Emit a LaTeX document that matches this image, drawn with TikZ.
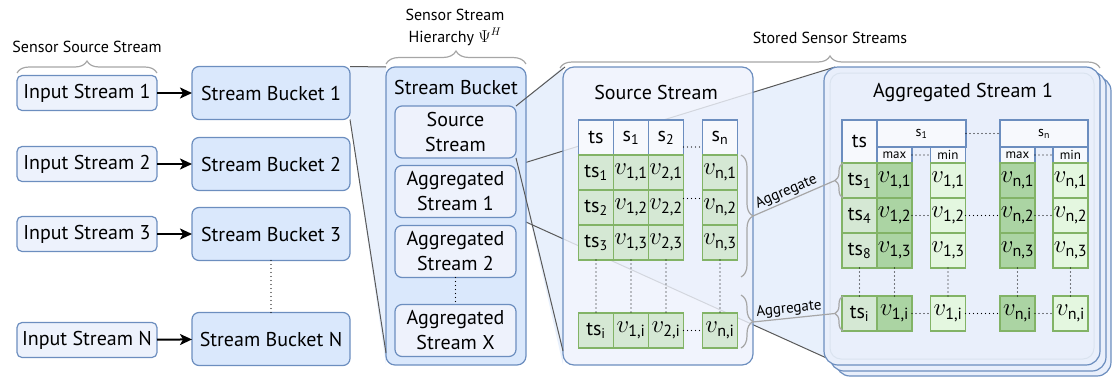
\documentclass[tikz,border=0pt]{standalone}
\usepackage{amsmath}
\usepackage{fontspec}
\setmainfont{PT Sans}
\usetikzlibrary{arrows.meta,decorations.pathreplacing,calc}
\pgfdeclarelayer{background}
\pgfsetlayers{background,main}
\definecolor{bline}{HTML}{6C8EBF}
\definecolor{bfill}{HTML}{DAE8FC}
\definecolor{ifill}{HTML}{EDF2FC}
\definecolor{sfill}{HTML}{EEF2FC}
\definecolor{afill}{HTML}{E9EFFB}
\definecolor{hfill}{HTML}{F7F9FD}
\definecolor{gline}{HTML}{82B366}
\definecolor{gfill}{HTML}{D5E8D4}
\definecolor{gdark}{HTML}{ABD4A3}
\definecolor{glight}{HTML}{E4F7E0}
\definecolor{zfill}{HTML}{E8F0FC}
\definecolor{brc}{HTML}{A6A6A6}
\definecolor{zline}{HTML}{595959}
\begin{document}
\begin{tikzpicture}[x=1pt,y=-1pt,
  big/.style={font=\fontsize{20}{25}\selectfont},
  box/.style={draw=bline, line width=1.2pt, rounded corners=5pt, inner sep=0pt, outer sep=0pt, align=center, big},
  inbox/.style={box, fill=ifill, minimum width=140, minimum height=35},
  bkt/.style={box, fill=bfill, minimum width=158, minimum height=53, rounded corners=7pt},
  inner/.style={box, fill=sfill, minimum width=121, minimum height=52, rounded corners=7pt},
  cell/.style={draw, line width=1.2pt, minimum width=35, minimum height=35, inner sep=0pt, outer sep=0pt, font=\fontsize{20}{22}\selectfont},
  vc/.style={font=\fontsize{23}{24}\selectfont},
  hc/.style={cell, draw=bline, fill=hfill},
  gc/.style={cell, draw=gline, fill=gfill},
  dk/.style={cell, draw=gline, fill=gdark, vc},
  lt/.style={cell, draw=gline, fill=glight, vc},
  dots/.style={line width=1.4pt, dash pattern=on 0pt off 4pt, line cap=round},
  curly/.style={draw=brc, line width=1.2pt, decorate, decoration={brace, amplitude=#1}},
  curly/.default=10pt,
  aggl/.style={draw=brc, line width=1.2pt},
  agglab/.style={font=\fontsize{15}{18}\selectfont, sloped, above, inner sep=1.5pt, pos=0.45},
  zl/.style={draw=zline, line width=1pt},
  arr/.style={line width=2pt, -{Stealth[length=12pt,width=11pt,inset=3pt]}},
  small/.style={font=\fontsize{16}{22}\selectfont, align=center}
]
\useasboundingbox (0,0) rectangle (1116,378);

% ---------------- left column ----------------
\node[inbox] (in1) at (87,93) {Input Stream 1};
\node[inbox] (in2) at (87,164) {Input Stream 2};
\node[inbox] (in3) at (87,234) {Input Stream 3};
\node[inbox] (inN) at (87,340) {Input Stream N};
\node[bkt] (b1) at (271,93) {Stream Bucket 1};
\node[bkt] (b2) at (271,164) {Stream Bucket 2};
\node[bkt] (b3) at (271,234) {Stream Bucket 3};
\node[bkt] (bN) at (271,339) {Stream Bucket N};
\draw[arr] (in1) -- (b1);
\draw[arr] (in2) -- (b2);
\draw[arr] (in3) -- (b3);
\draw[arr] (inN) -- (bN);
\draw[dots] (b3) -- (bN);

\coordinate (br1a) at (17,73);
\coordinate (br1b) at (157,73);
\draw[curly=12pt] (br1a) -- (br1b);
\node[small] (lab1) at (87,47) {Sensor Source Stream};

% ---------------- hierarchy ----------------
\node[box, fill=bfill, minimum width=140, minimum height=298, rounded corners=9pt] (hb) at (456,216) {};
\node[big] (hbt) at (456,87) {Stream Bucket};
\node[inner] (ss) at (455.5,132) {Source\\Stream};
\node[inner] (a1) at (455.5,191.5) {Aggregated\\Stream 1};
\node[inner] (a2) at (455.5,251.5) {Aggregated\\Stream 2};
\node[inner] (ax) at (455.5,330.5) {Aggregated\\Stream X};
\draw[dots] (a2) -- (ax);

\coordinate (br2a) at (386,64);
\coordinate (br2b) at (526,64);
\draw[curly=13pt] (br2a) -- (br2b);
\node[small] (lab2) at (455,27) {Sensor Stream\\Hierarchy $\Psi^{H}$};

% ---------------- stored streams boxes ----------------
\node[box, fill=sfill, fill opacity=0.82, minimum width=190, minimum height=298, rounded corners=11pt] (src) at (658,216) {};
\node[big] (srct) at (656,92) {Source Stream};

\node[box, fill=afill, minimum width=275, minimum height=299, rounded corners=14pt] (ag3) at (973.5,226.5) {};
\node[box, fill=afill, minimum width=276, minimum height=299, rounded corners=14pt] (ag2) at (968,221.5) {};
\node[box, fill=afill, minimum width=276, minimum height=298, rounded corners=14pt] (ag) at (962,216) {};
\node[draw=bline!25, line width=1pt, rounded corners=11pt, minimum width=264, minimum height=286, inner sep=0pt] (agin) at (962,216) {};
\node[big] (agt) at (963,92) {Aggregated Stream 1};

\coordinate (br3a) at (560,68);
\coordinate (br3b) at (1100,68);
\draw[curly=12pt] (br3a) -- (br3b);
\node[small] (lab3) at (830,38) {Stored Sensor Streams};

% ---------------- zoom projections ----------------
\begin{pgfonlayer}{background}
\fill[zfill] (b1.north east) -- (hb.north west) -- (hb.south west) -- (b1.south east) -- cycle;
\fill[zfill] (ss.north east) -- (src.north west) -- (src.south west) -- (ss.south east) -- cycle;
\fill[zfill] (a1.north east) -- ([xshift=11pt]ag.north west) -- ([xshift=18pt]ag.south west) -- (a1.south east) -- cycle;
\draw[zl] (a1.north east) -- ([xshift=11pt]ag.north west);
\draw[zl] (a1.south east) -- ([xshift=18pt]ag.south west);
\end{pgfonlayer}
\draw[zl] (b1.north east) -- (hb.north west);
\draw[zl] (b1.south east) -- ([yshift=12pt]hb.south west);
\draw[zl] (ss.north east) -- ([xshift=2pt]src.north west);
\draw[zl] (ss.south east) -- ([yshift=14pt]src.south west);

% ---------------- source table ----------------
\node[hc] (sh0) at (596,137.5) {ts};
\node[hc] (sh1) at (631,137.5) {s$_{\text{1}}$};
\node[hc] (sh2) at (666,137.5) {s$_{\text{2}}$};
\node[hc] (shn) at (720,137.5) {s$_{\text{n}}$};
\foreach \r/\y in {1/172.5, 2/207.5, 3/242.5, i/330.5}{
  \node[gc] (s\r0) at (596,\y) {ts$_{\text{\r}}$};
  \node[gc, vc] (s\r1) at (631,\y) {$v_{\text{1,\r}}$};
  \node[gc, vc] (s\r2) at (666,\y) {$v_{\text{2,\r}}$};
  \node[gc, vc] (s\r n) at (720,\y) {$v_{\text{n,\r}}$};
}
\draw[dots] ([yshift=-9.5pt]sh2.east) -- ([yshift=-9.5pt]shn.west);
\draw[dots] ([yshift=9pt]s22.east) -- ([yshift=9pt]s2n.west);
\draw[dots] (si2.east) -- (sin.west);
\foreach \c in {0,1,2,n}{
  \draw[dots] (s3\c.south) -- (si\c.north);
}

% ---------------- aggregated table ----------------
\node[hc, minimum height=43] (ah0) at (859.5,141.5) {ts};
\node[hc, minimum width=89, minimum height=27, font=\fontsize{14}{16}\selectfont] (ah1) at (921.5,133.5) {s$_{\text{1}}$};
\node[hc, minimum width=88, minimum height=27, font=\fontsize{14}{16}\selectfont] (ahn) at (1044,133.5) {s$_{\text{n}}$};
\node[hc, minimum height=16, font=\fontsize{13}{15}\selectfont] (am1) at (894.5,155) {max};
\node[hc, minimum height=16, font=\fontsize{13}{15}\selectfont] (an1) at (948,155) {min};
\node[hc, minimum height=16, font=\fontsize{13}{15}\selectfont] (amn) at (1017.5,155) {max};
\node[hc, minimum height=16, font=\fontsize{13}{15}\selectfont] (ann) at (1070.5,155) {min};
\draw[dots] (am1.east) -- (an1.west);
\draw[dots] (amn.east) -- (ann.west);
\draw[dots] (ah1.east) -- (ahn.west);
\foreach \r/\y/\t/\k in {1/180.5/1/1, 2/215.5/4/2, 3/250.5/8/3, i/313.5/i/i}{
  \node[gc] (g\r0) at (859.5,\y) {ts$_{\text{\t}}$};
  \node[dk] (g\r1) at (894.5,\y) {$v_{\text{1,\k}}$};
  \node[lt] (g\r2) at (948,\y) {$v_{\text{1,\k}}$};
  \node[dk] (g\r3) at (1017.5,\y) {$v_{\text{n,\k}}$};
  \node[lt] (g\r4) at (1070.5,\y) {$v_{\text{n,\k}}$};
}
\foreach \r in {2,i}{
  \draw[dots] (g\r1.east) -- (g\r2.west);
  \draw[dots] (g\r2.east) -- (g\r3.west);
  \draw[dots] (g\r3.east) -- (g\r4.west);
}
\foreach \c in {0,1,2,3,4}{
  \draw[dots] (g3\c.south) -- (gi\c.north);
}

% ---------------- aggregate braces ----------------
\coordinate (sb1a) at (741,155);
\coordinate (sb1b) at (741,277);
\coordinate (sb2a) at (741,295);
\coordinate (sb2b) at (741,348);
\draw[curly=12pt] (sb1a) -- (sb1b);
\draw[curly=12pt] (sb2a) -- (sb2b);
\coordinate (ab1a) at (843,198);
\coordinate (ab1b) at (843,163);
\coordinate (ab2a) at (843,331);
\coordinate (ab2b) at (843,296);
\draw[curly=8pt] (ab1a) -- (ab1b);
\draw[curly=8pt] (ab2a) -- (ab2b);
\coordinate (t1) at (753,216);
\coordinate (u1) at (835,180.5);
\coordinate (t2) at (753,322);
\coordinate (u2) at (835,313.5);
\draw[aggl] (t1) -- node[agglab] {Aggregate} (u1);
\draw[aggl] (t2) -- node[agglab] {Aggregate} (u2);
\end{tikzpicture}
\end{document}
